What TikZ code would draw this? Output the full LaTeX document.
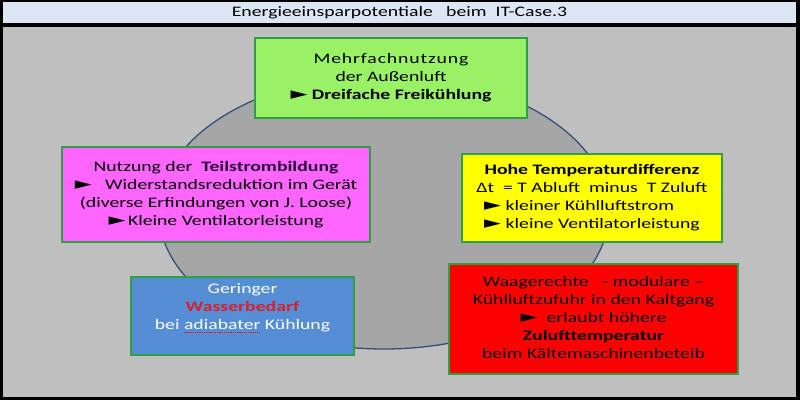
\documentclass[tikz,border=0pt]{standalone}
\usepackage{fontspec}
\setmainfont{Carlito}[FakeStretch=1.36]
\newfontfamily\symfont{DejaVu Sans}
\usetikzlibrary{positioning}
\usetikzlibrary{shapes.geometric}

\definecolor{grau}{HTML}{BFBFBF}
\definecolor{kreisgrau}{HTML}{A6A6A6}
\definecolor{kreisrand}{HTML}{34507A}
\definecolor{titelblau}{HTML}{DCE6F4}
\definecolor{rahmengruen}{HTML}{2EA043}
\definecolor{hellgruen}{HTML}{99F266}
\definecolor{rosa}{HTML}{FF66FF}
\definecolor{gelb}{HTML}{FFFF00}
\definecolor{blau}{HTML}{558ED5}
\definecolor{rot}{HTML}{FF0000}
\definecolor{dunkelrot}{HTML}{D8202C}
\definecolor{lila}{HTML}{2A0F3A}

\newlength{\zeilenbreite}
\newcommand{\pfeil}{{\symfont\fontsize{17}{18}\selectfont\scalebox{1.3}[1]{\char"25BA}}}
\newcommand{\wellig}[1]{\setbox0\hbox{#1}\rlap{\raisebox{-3pt}{\textcolor{red}{\hbox to \wd0{\xleaders\hbox{\rule{0.9pt}{0.8pt}\hskip0.9pt}\hfill}}}}#1}
\newcommand{\gleichbreit}[1]{\settowidth{\zeilenbreite}{\pfeil\ kleine Ventilatorleistung}\makebox[\zeilenbreite][l]{#1}}

\begin{document}
\begin{tikzpicture}[x=1pt,y=1pt,
  kasten/.style={draw=rahmengruen,line width=1.6pt,align=center,inner sep=0pt,font=\fontsize{14.5}{18}\selectfont},
]
\useasboundingbox (0,0) rectangle (800,400);
\fill[black] (0,0) rectangle (800,400);
\fill[grau] (3,3) rectangle (796,373);
\fill (399.5,387.5) node[fill=titelblau,minimum width=793pt,minimum height=21pt,inner sep=0pt,font=\fontsize{14.5}{18}\selectfont] (titel) {Energieeinsparpotentiale\ \ \ beim\ \ IT-Case.3};
%
\fill (384,188) node[ellipse,draw=kreisrand,line width=1.3pt,fill=kreisgrau,minimum width=450pt,minimum height=274pt,inner sep=0pt] (kreis) {};
%
\fill (391,322) node[kasten,fill=hellgruen,minimum width=272pt,minimum height=80pt] (aussenluft) {{\addfontfeature{LetterSpace=6}Mehrfachnutzung}\\der Außenluft\\\pfeil\ \textbf{Dreifache Freikühlung}};
\fill (216,205.5) node[kasten,fill=rosa,minimum width=308pt,minimum height=95pt] (teilstrom) {Nutzung der\ \ {\color{lila}\textbf{Teilstrombildung}}\\\pfeil\ \ \ Widerstandsreduktion im Gerät\\(diverse Erfindungen von J. Loose)\\\pfeil\,Kleine Ventilatorleistung};
\fill (592,202) node[kasten,fill=gelb,minimum width=260pt,minimum height=88pt] (differenz) {\textbf{Hohe Temperaturdifferenz}\\Δt\ \ = T Abluft\ \ minus\ \ T Zuluft\\\gleichbreit{\pfeil\ kleiner Kühlluftstrom}\\\gleichbreit{\pfeil\ kleine Ventilatorleistung}};
\fill (242.5,84) node[kasten,fill=blau,minimum width=223pt,minimum height=78pt] (wasser) {{\color{white}Geringer}\\{\color{dunkelrot}\textbf{Wasserbedarf}}\\{\color{white}bei \wellig{adiabater} Kühlung}\\\mbox{}};
\fill (593.5,81) node[kasten,fill=rot,minimum width=289pt,minimum height=110pt] (kaltgang) {Waagerechte\ \ \ - modulare –\\Kühlluftzufuhr in den \wellig{Kaltgang}\\\pfeil\ \ erlaubt höhere\\\textbf{Zulufttemperatur}\\beim \wellig{Kältemaschinenbeteib}};
\end{tikzpicture}
\end{document}
